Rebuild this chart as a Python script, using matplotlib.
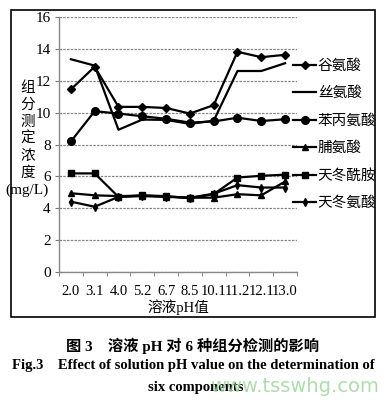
import matplotlib
matplotlib.use('Agg')
import matplotlib.pyplot as plt
from matplotlib.patches import Rectangle
import numpy as np

plt.rcParams['font.family'] = ['Liberation Serif', 'Noto Sans CJK SC']

# 数据：溶液 pH 与 6 种组分测定浓度 (mg/L)
ph_labels = ['2.0', '3.1', '4.0', '5.2', '6.7', '8.5', '10.1', '11.2', '12.1', '13.0']
glu = [11.47, 12.9, 10.37, 10.37, 10.3, 9.95, 10.48, 13.84, 13.5, 13.65]      # 谷氨酸
ser = [13.37, 12.97, 8.93, 9.57, 9.55, 9.3, 9.5, 12.63, 12.63, 13.12]        # 丝氨酸
phe = [8.19, 10.1, 9.95, 9.78, 9.62, 9.38, 9.45, 9.69, 9.48, 9.59]            # 苯丙氨酸
pro = [4.93, 4.8, 4.75, 4.78, 4.72, 4.65, 4.65, 4.87, 4.8, 5.67]              # 脯氨酸
asn = [6.18, 6.18, 4.7, 4.8, 4.75, 4.62, 4.87, 5.92, 6.03, 6.1]               # 天冬酰胺
asp = [4.4, 4.08, 4.7, 4.75, 4.7, 4.65, 4.9, 5.44, 5.29, 5.29]                # 天冬氨酸

names = ['谷氨酸', '丝氨酸', '苯丙氨酸', '脯氨酸', '天冬酰胺', '天冬氨酸']
series = [glu, ser, phe, pro, asn, asp]
markers = ['D', None, 'o', '^', 's', 'd']
msizes = [4.5, 0, 5.5, 5, 5, 4]

fig = plt.figure(figsize=(3.86, 4.05), dpi=100)
ax = fig.add_axes([0.1528, 0.3296, 0.6166, 0.6272])

x = np.arange(len(ph_labels))
for name, vals, m, ms in zip(names, series, markers, msizes):
    ax.plot(x, vals, color='black', lw=1.6, marker=m, ms=ms, label=name)

ax.set_xlim(-0.5, len(ph_labels) - 0.5)
ax.set_ylim(0, 16)
ax.set_yticks(range(0, 17, 2))
ax.set_xticks(x)
ax.set_xticklabels(ph_labels, fontsize=10.5)
ax.set_xticks(np.arange(-0.5, len(ph_labels)), minor=True)
ax.tick_params(axis='x', which='major', length=0, pad=10)
ax.tick_params(axis='x', which='minor', length=3, color='#777777')
ax.tick_params(axis='y', length=3, color='#777777', labelsize=11, pad=3)
ax.grid(axis='y', color='#888888', lw=0.9, ls=(0, (2, 1)))
ax.set_axisbelow(True)
for s in ['top', 'right']:
    ax.spines[s].set_visible(False)
for s in ['left', 'bottom']:
    ax.spines[s].set_color('#888888')
    ax.spines[s].set_linewidth(1.0)

ax.set_xlabel('溶液pH值', fontsize=10.5, labelpad=1)

# 纵轴标题（竖排）
ylab = ['组', '分', '测', '定', '浓', '度']
for i, ch in enumerate(ylab):
    fig.text(28 / 386, 1 - (88 + i * 17) / 405, ch, fontsize=10.5, ha='center', va='center')
fig.text(27 / 386, 1 - 190 / 405, '(mg/L)', fontsize=11, ha='center', va='center')

leg = fig.legend(loc='upper left', bbox_to_anchor=(293 / 386, 1 - 59 / 405), frameon=False,
                 fontsize=10.5, handlelength=1.6, handletextpad=0.1, labelspacing=0.95,
                 borderaxespad=0, borderpad=0)

# 外框
fig.patches.append(Rectangle((11 / 386, 1 - 317 / 405), 364 / 386, 307 / 405,
                             transform=fig.transFigure, fill=False, ec='black', lw=1.2))

# 图题
fig.text(0.5, 1 - 346 / 405, '图 3　溶液 pH 对 6 种组分检测的影响', fontsize=11,
         weight='bold', ha='center', va='center')
fig.text(0.5, 1 - 366 / 405, 'Fig.3    Effect of solution pH value on the determination of',
         fontsize=10.5, weight='bold', ha='center', va='center')
fig.text(196 / 386, 1 - 388 / 405, 'six components', fontsize=10.5, weight='bold',
         ha='center', va='center')
fig.text(295 / 386, 1 - 387 / 405, 'www.tsswhg.com', fontsize=14, color='#9ad49a',
         family='DejaVu Sans', ha='center', va='center', alpha=0.8)

fig.savefig('out.png', dpi=100)
